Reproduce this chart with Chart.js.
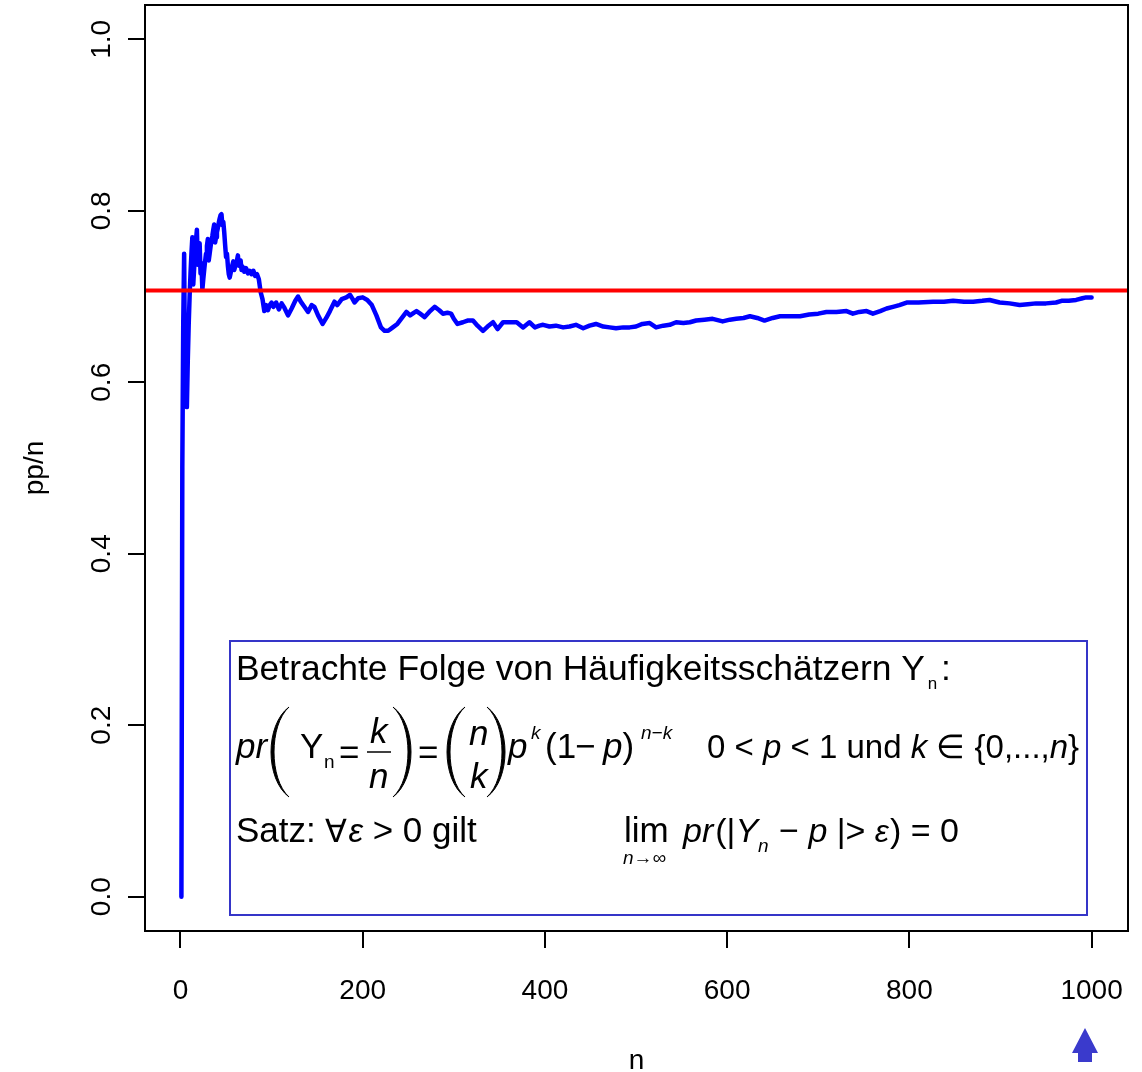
<!DOCTYPE html>
<html>
<head>
<meta charset="utf-8">
<script src="https://cdn.jsdelivr.net/npm/chart.js@4.4.0/dist/chart.umd.min.js"></script>
<style>
  html, body { margin: 0; padding: 0; background: #fff; }
  canvas { display: block; }
</style>
</head>
<body>
<canvas id="lln" width="1142" height="1072"></canvas>
<script>
// running share pp/n
const nVals = [1, 2, 3, 4, 5, 6, 7, 8, 9, 10, 11, 12, 13, 14, 15, 16, 17, 18, 19, 20,
  21, 22, 23, 24, 25, 26, 27, 28, 29, 30, 31, 32, 33, 34, 35, 36, 37, 38, 39, 40,
  41, 42, 43, 44, 45, 46, 47, 48, 49, 50, 51, 52, 53, 54, 55, 56, 57, 58, 59, 60,
  61, 62, 63, 64, 65, 66, 67, 68, 70, 72, 74, 76, 78, 80, 82, 84, 86, 88, 90, 91,
  92, 94, 96, 98, 100, 102, 105, 108, 111, 114, 118, 122, 126, 129, 132, 136, 140, 144, 147, 151,
  156, 160, 164, 169, 172, 177, 182, 186, 189, 191, 195, 200, 205, 210, 215, 220, 224, 228, 233, 238,
  243, 248, 252, 256, 259, 263, 268, 273, 279, 284, 288, 293, 297, 300, 304, 310, 315, 321, 326, 332,
  337, 343, 348, 354, 362, 369, 376, 383, 389, 394, 398, 405, 412, 420, 427, 434, 442, 449, 456, 464,
  471, 478, 486, 493, 500, 507, 515, 522, 530, 537, 544, 552, 559, 566, 575, 584, 595, 603, 610, 618,
  625, 633, 641, 650, 658, 670, 680, 690, 700, 709, 720, 731, 738, 745, 753, 760, 768, 775, 782, 789,
  797, 810, 826, 838, 848, 860, 870, 880, 888, 899, 910, 921, 930, 939, 950, 961, 967, 975, 983, 990,
  994, 1000]
const ppn = [0, 0.5, 0.667, 0.75, 0.6, 0.667, 0.571, 0.625, 0.667, 0.7, 0.727, 0.75, 0.769, 0.714, 0.733, 0.75, 0.765, 0.778, 0.737, 0.75,
  0.762, 0.727, 0.739, 0.708, 0.72, 0.731, 0.741, 0.75, 0.759, 0.767, 0.742, 0.75, 0.758, 0.765, 0.771, 0.778, 0.784, 0.763, 0.769, 0.775,
  0.78, 0.786, 0.791, 0.795, 0.796, 0.783, 0.787, 0.775, 0.76, 0.746, 0.75, 0.736, 0.726, 0.722, 0.727, 0.732, 0.737, 0.741, 0.731, 0.735,
  0.738, 0.742, 0.748, 0.736, 0.738, 0.742, 0.731, 0.735, 0.729, 0.733, 0.727, 0.73, 0.726, 0.73, 0.724, 0.726, 0.72, 0.705, 0.697, 0.69,
  0.683, 0.69, 0.684, 0.69, 0.693, 0.688, 0.693, 0.685, 0.692, 0.687, 0.678, 0.686, 0.695, 0.7, 0.694, 0.688, 0.682, 0.69, 0.688, 0.678,
  0.668, 0.675, 0.683, 0.694, 0.69, 0.697, 0.699, 0.702, 0.697, 0.693, 0.698, 0.699, 0.696, 0.69, 0.678, 0.664, 0.66, 0.66, 0.664, 0.668,
  0.675, 0.682, 0.678, 0.681, 0.683, 0.68, 0.676, 0.682, 0.688, 0.684, 0.68, 0.681, 0.68, 0.674, 0.668, 0.67, 0.672, 0.672, 0.666, 0.66,
  0.665, 0.67, 0.662, 0.67, 0.67, 0.67, 0.664, 0.67, 0.664, 0.666, 0.667, 0.665, 0.666, 0.664, 0.665, 0.667, 0.663, 0.666, 0.668, 0.665,
  0.664, 0.663, 0.664, 0.664, 0.665, 0.668, 0.669, 0.664, 0.666, 0.667, 0.67, 0.669, 0.67, 0.672, 0.673, 0.674, 0.671, 0.673, 0.674, 0.675,
  0.677, 0.675, 0.672, 0.675, 0.677, 0.677, 0.677, 0.679, 0.68, 0.682, 0.682, 0.683, 0.68, 0.682, 0.683, 0.68, 0.683, 0.686, 0.688, 0.69,
  0.693, 0.693, 0.694, 0.694, 0.695, 0.694, 0.694, 0.695, 0.696, 0.693, 0.692, 0.69, 0.691, 0.692, 0.692, 0.693, 0.695, 0.695, 0.696, 0.698,
  0.699, 0.699]
const pTrue = 0.7071
const xTicks = [0, 200, 400, 600, 800, 1000]
const yTicks = [0, 0.2, 0.4, 0.6, 0.8, 1.0]
const xLim = [-38.96, 1039.96]
const yLim = [-0.04, 1.04]

const FONT = '"Liberation Sans", Arial, Helvetica, sans-serif'

function put(ctx, s, x, y, size, italic) {
  ctx.font = (italic ? 'italic ' : '') + size + 'px ' + FONT
  ctx.fillText(s, x, y)
  return x + ctx.measureText(s).width
}

// tall bracket, thicker in the middle like a typeset one
function paren(ctx, xa, xb, top, bot, open) {
  const h = bot - top
  const tip = open ? xb : xa
  const belly = open ? xa : xb
  const inner = open ? belly + 3 : belly - 3
  const c1 = (belly - 0.25 * tip) / 0.75
  const c2 = (inner - 0.25 * tip) / 0.75
  ctx.beginPath()
  ctx.moveTo(tip, top)
  ctx.bezierCurveTo(c1, top + h * 0.2, c1, bot - h * 0.2, tip, bot)
  ctx.bezierCurveTo(c2, bot - h * 0.2, c2, top + h * 0.2, tip, top)
  ctx.fill()
  ctx.lineWidth = 1
  ctx.stroke()
}

const extras = {
  id: 'extras',
  afterDraw(chart) {
    const ctx = chart.ctx
    const a = chart.chartArea
    const ys = chart.scales.y
    ctx.save()
    // frame
    ctx.strokeStyle = '#000'
    ctx.lineWidth = 2
    ctx.strokeRect(a.left, a.top, a.right - a.left, a.bottom - a.top)

    // y tick labels, turned like R does
    ctx.fillStyle = '#000'
    ctx.font = '28px ' + FONT
    ctx.textAlign = 'center'
    ctx.textBaseline = 'alphabetic'
    ys.ticks.forEach(t => {
      ctx.save()
      ctx.translate(110, ys.getPixelForValue(t.value))
      ctx.rotate(-Math.PI / 2)
      ctx.fillText(t.value.toFixed(1), 0, 0)
      ctx.restore()
    })

    // text box
    ctx.textAlign = 'left'
    ctx.strokeStyle = '#3535c8'
    ctx.lineWidth = 2
    ctx.strokeRect(230, 641, 857, 274)

    ctx.fillStyle = '#000'
    ctx.strokeStyle = '#000'
    // line 1
    const l1 = 'Betrachte Folge von Häufigkeitsschätzern Y'
    ctx.font = '34px ' + FONT
    const f1 = 34 * 689 / ctx.measureText(l1).width
    let e = put(ctx, l1, 236, 680, f1)
    put(ctx, 'n', e + 3, 689, 17)
    put(ctx, ':', 941, 680, f1)

    // line 2
    put(ctx, 'pr', 236, 758, 35, true)
    paren(ctx, 271, 289, 707, 797, true)
    put(ctx, 'Y', 300, 758, 35)
    put(ctx, 'n', 324, 768, 19)
    put(ctx, '=', 339, 764, 35)
    put(ctx, 'k', 370, 743, 35, true)
    ctx.lineWidth = 1.5
    ctx.beginPath(); ctx.moveTo(367, 752); ctx.lineTo(391, 752); ctx.stroke()
    put(ctx, 'n', 369, 788, 35, true)
    paren(ctx, 393, 411, 707, 797, false)
    put(ctx, '=', 418, 764, 35)
    paren(ctx, 447, 465, 707, 797, true)
    put(ctx, 'n', 469, 745, 35, true)
    put(ctx, 'k', 470, 788, 35, true)
    paren(ctx, 487, 505, 707, 797, false)
    put(ctx, 'p', 508, 758, 35, true)
    put(ctx, 'k', 531, 739, 19, true)
    put(ctx, '(1', 545, 758, 35)
    put(ctx, '−', 575, 758, 35)
    e = put(ctx, 'p', 603, 758, 35, true)
    put(ctx, ')', e, 758, 35)
    put(ctx, 'n−k', 641, 739, 19, true)
    e = put(ctx, '0 < ', 707, 758, 33)
    e = put(ctx, 'p', e, 758, 33, true)
    e = put(ctx, ' < 1 und ', e, 758, 33)
    e = put(ctx, 'k', e, 758, 33, true)
    e = put(ctx, ' ∈ {0,...,', e, 758, 33)
    e = put(ctx, 'n', e, 758, 33, true)
    put(ctx, '}', e, 758, 33)

    // line 3
    e = put(ctx, 'Satz: ', 236, 842, 35)
    e = put(ctx, '∀', e, 842, 32)
    e = put(ctx, 'ε', e + 1, 842, 33, true)
    put(ctx, ' > 0 gilt', e, 842, 35)
    put(ctx, 'lim', 624, 842, 35)
    put(ctx, 'n→∞', 623, 864, 19, true)
    e = put(ctx, 'pr', 683, 842, 34, true)
    e = put(ctx, '(|', e + 2, 842, 34)
    e = put(ctx, 'Y', e, 842, 34, true)
    e = put(ctx, 'n', e, 852, 19, true)
    e = put(ctx, ' − ', e + 1, 842, 34)
    e = put(ctx, 'p', e, 842, 34, true)
    e = put(ctx, ' |> ', e, 842, 34)
    e = put(ctx, 'ε', e, 842, 32, true)
    put(ctx, ') = 0', e + 1, 842, 34)

    // slide navigation arrow
    ctx.fillStyle = '#3a3acc'
    ctx.beginPath()
    ctx.moveTo(1085, 1028)
    ctx.lineTo(1098, 1053)
    ctx.lineTo(1092, 1053)
    ctx.lineTo(1092, 1062)
    ctx.lineTo(1078, 1062)
    ctx.lineTo(1078, 1053)
    ctx.lineTo(1072, 1053)
    ctx.closePath()
    ctx.fill()
    ctx.restore()
  }
}

const tickGrid = {
  drawOnChartArea: false,
  drawTicks: true,
  tickLength: 17,
  color: '#000',
  lineWidth: 2
}

new Chart(document.getElementById('lln'), {
  type: 'line',
  data: {
    datasets: [{
      data: [{ x: xLim[0], y: pTrue }, { x: xLim[1], y: pTrue }],
      borderColor: '#ff0000',
      borderWidth: 4,
      pointRadius: 0,
      order: 0
    }, {
      data: nVals.map((n, i) => ({ x: n, y: ppn[i] })),
      borderColor: '#0000ff',
      borderWidth: 4.5,
      pointRadius: 0,
      order: 1
    }]
  },
  options: {
    responsive: false,
    animation: false,
    devicePixelRatio: 1,
    layout: { padding: { top: 5, right: 14, left: 0, bottom: 0 } },
    elements: { line: { tension: 0, borderJoinStyle: 'round', borderCapStyle: 'round' } },
    plugins: { legend: { display: false }, tooltip: { enabled: false } },
    scales: {
      x: {
        type: 'linear',
        min: xLim[0],
        max: xLim[1],
        afterBuildTicks: s => { s.ticks = xTicks.map(v => ({ value: v })) },
        afterFit: s => { s.height = 141; s.paddingLeft = 0; s.paddingRight = 0 },
        grid: tickGrid,
        border: { display: false },
        ticks: {
          autoSkip: false,
          maxRotation: 0,
          padding: 26,
          color: '#000',
          font: { family: FONT, size: 28 },
          callback: v => String(v)
        },
        title: {
          display: true,
          text: 'n',
          color: '#000',
          font: { family: FONT, size: 28, lineHeight: 0.8 },
          padding: { top: 0, bottom: 0 }
        }
      },
      y: {
        min: yLim[0],
        max: yLim[1],
        afterBuildTicks: s => { s.ticks = yTicks.map(v => ({ value: v })) },
        afterFit: s => { s.width = 145; s.paddingTop = 0; s.paddingBottom = 0 },
        grid: tickGrid,
        border: { display: false },
        ticks: { display: false },
        title: {
          display: true,
          text: 'pp/n',
          color: '#000',
          font: { family: FONT, size: 28, lineHeight: 1 },
          padding: { top: 21, bottom: 0 }
        }
      }
    }
  },
  plugins: [extras]
})
</script>
</body>
</html>
